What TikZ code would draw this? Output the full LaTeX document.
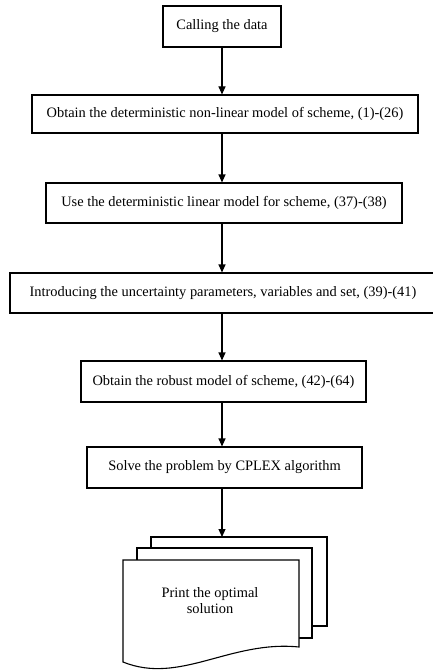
\documentclass[tikz,border=0pt]{standalone}
\usepackage{fontspec}
\setmainfont{Liberation Serif}
\usetikzlibrary{arrows.meta}
\begin{document}
\begin{tikzpicture}[x=1pt,y=-1pt,
  box/.style={draw, line width=1.1pt, rectangle, inner sep=0pt, align=center,
    font=\fontsize{14.4}{16}\selectfont},
  page/.style={draw, line width=1.1pt, fill=white},
  arr/.style={-{Triangle[width=7pt,length=8pt]}, line width=1.1pt}]
\useasboundingbox (0,0) rectangle (433,671);
\node[box, minimum width=118pt, minimum height=41pt] (b1) at (222,26.5) {Calling the data};
\node[box, minimum width=386pt, minimum height=38pt] (b2) at (225,114) {Obtain the deterministic non-linear model of scheme, (1)-(26)};
\node[box, minimum width=356pt, minimum height=40pt] (b3) at (224,203) {Use the deterministic linear model for scheme, (37)-(38)};
\node[box, minimum width=426pt, minimum height=40pt] (b4) at (223,293) {Introducing the uncertainty parameters, variables and set, (39)-(41)};
\node[box, minimum width=285pt, minimum height=41pt] (b5) at (223.5,381.5) {Obtain the robust model of scheme, (42)-(64)};
\node[box, minimum width=275pt, minimum height=41pt] (b6) at (224.5,467.5) {Solve the problem by CPLEX algorithm};
% multi-document
\draw[page] (151,537) rectangle (327,626);
\draw[page] (137,548) rectangle (312,638);
\draw[page] (123,560) -- (299,560) -- (299,647) .. controls (230,640) and (180,685) .. (123,662) -- cycle;
\node[align=center, inner sep=0pt, font=\fontsize{14.4}{15.2}\selectfont] (b7) at (210,600.5) {Print the optimal\\solution};
\coordinate (doctop) at (222,537);
% connectors
\draw[arr] (b1.south) -- (b1.south |- b2.north);
\draw[arr] (b1.south |- b2.south) -- (b1.south |- b3.north);
\draw[arr] (b1.south |- b3.south) -- (b1.south |- b4.north);
\draw[arr] (b1.south |- b4.south) -- (b1.south |- b5.north);
\draw[arr] (b1.south |- b5.south) -- (b1.south |- b6.north);
\draw[arr] (b1.south |- b6.south) -- (doctop);
\end{tikzpicture}
\end{document}
